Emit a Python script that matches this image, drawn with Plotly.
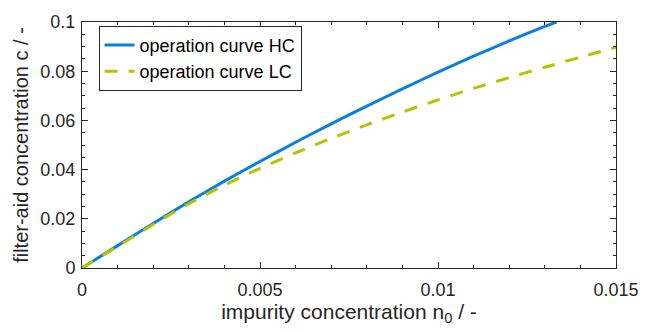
import plotly.graph_objects as go

# data
n_hc = [0, 0.001, 0.002, 0.003, 0.004, 0.005, 0.006, 0.007, 0.008, 0.009, 0.010, 0.011, 0.012, 0.013, 0.01333]
c_hc = [0, 0.0091, 0.0181, 0.0269, 0.0353, 0.0433, 0.0511, 0.0586, 0.0658, 0.0728, 0.0796, 0.0861, 0.0923, 0.0982, 0.1000]

n_lc = [0, 0.001, 0.002, 0.003, 0.004, 0.005, 0.006, 0.007, 0.008, 0.009, 0.010, 0.011, 0.012, 0.013, 0.014, 0.015]
c_lc = [0, 0.0088, 0.0177, 0.0261, 0.0337, 0.0405, 0.0468, 0.0527, 0.0582, 0.0634, 0.0683, 0.0730, 0.0774, 0.0816, 0.0857, 0.0897]

x_ticks = [0, 0.005, 0.01, 0.015]
x_ticklabels = ["0", "0.005", "0.01", "0.015"]
y_ticks = [0, 0.02, 0.04, 0.06, 0.08, 0.1]
y_ticklabels = ["0", "0.02", "0.04", "0.06", "0.08", "0.1"]

axis_col = "#262626"
font_fam = "Liberation Sans, Arial, sans-serif"

fig = go.Figure()
fig.add_trace(go.Scatter(x=n_hc, y=c_hc, mode="lines", name="operation curve HC",
                         line=dict(color="#0A7FE3", width=3, shape="spline", smoothing=0.8)))
fig.add_trace(go.Scatter(x=n_lc, y=c_lc, mode="lines", name="operation curve LC",
                         line=dict(color="#B5C400", width=3, dash="13px,11px", shape="spline", smoothing=0.8)))

common = dict(showgrid=False, zeroline=False, showline=True, linecolor=axis_col, linewidth=1,
              ticks="inside", ticklen=6, tickcolor=axis_col, mirror="allticks",
              tickfont=dict(family=font_fam, size=18, color=axis_col))

fig.update_xaxes(range=[0, 0.015], tickvals=x_ticks, ticktext=x_ticklabels,
                 ticklabelstandoff=5,
                 minor=dict(ticks="inside", ticklen=3, dtick=0.001, tickcolor=axis_col, showgrid=False),
                 title=dict(text="impurity concentration n<sub>0</sub> / -", standoff=4,
                            font=dict(family=font_fam, size=21, color=axis_col)),
                 **common)
fig.update_yaxes(range=[0, 0.1], tickvals=y_ticks, ticktext=y_ticklabels,
                 ticklabelstandoff=2,
                 minor=dict(ticks="inside", ticklen=3, dtick=0.005, tickcolor=axis_col, showgrid=False),
                 title=dict(text="filter-aid concentration c / -", standoff=6,
                            font=dict(family=font_fam, size=20, color=axis_col)),
                 **common)

fig.update_layout(
    width=651, height=333,
    margin=dict(l=82, r=27, t=18, b=65),
    paper_bgcolor="white", plot_bgcolor="white",
    showlegend=True,
    legend=dict(x=0.031, y=0.985, xanchor="left", yanchor="top",
                bgcolor="white", bordercolor=axis_col, borderwidth=1,
                font=dict(family=font_fam, size=18, color="black"),
                tracegroupgap=0, itemwidth=30),
)

fig.write_html("out.html")
